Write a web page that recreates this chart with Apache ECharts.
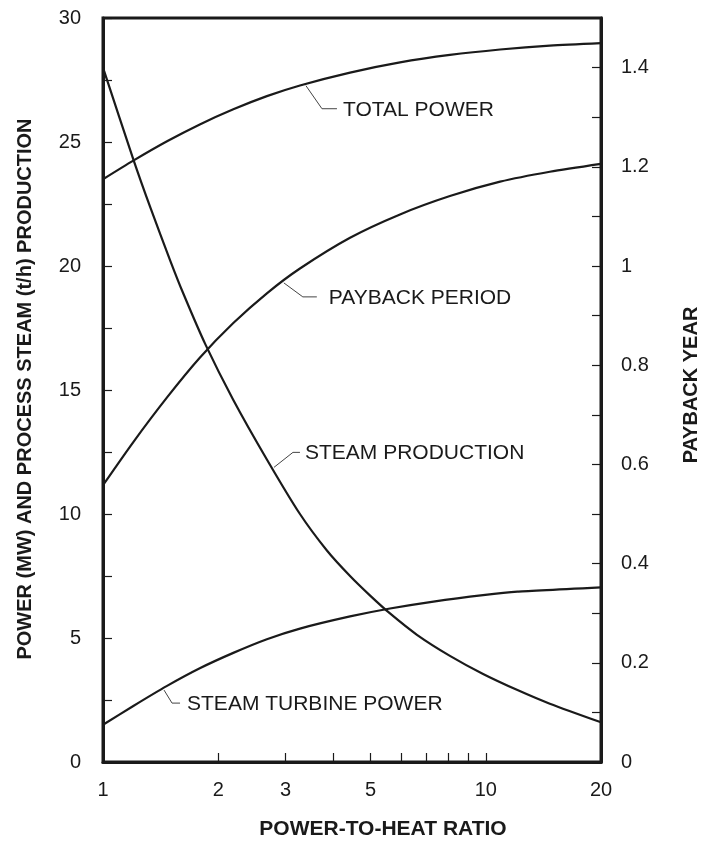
<!DOCTYPE html>
<html>
<head>
<meta charset="utf-8">
<script src="https://cdn.jsdelivr.net/npm/echarts@6/dist/echarts.min.js"></script>
<style>
html,body{margin:0;padding:0;background:#fff}
#main{width:702px;height:842px}
</style>
</head>
<body>
<div id="main"></div>
<script>
// values (x = power-to-heat ratio)
const totalPowerX = [1, 1.2, 1.47, 1.79, 2.19, 2.68, 3.27, 4.42, 5.97, 8.06, 10.9, 14.7, 20];
const totalPowerMW = [23.5, 24.25, 25.03, 25.71, 26.32, 26.85, 27.28, 27.8, 28.21, 28.51, 28.73, 28.89, 28.99];

const paybackX = [1, 1.2, 1.47, 1.79, 2.19, 2.68, 3.27, 4.42, 5.97, 8.06, 10.9, 14.7, 20];
const paybackYear = [0.558, 0.645, 0.735, 0.815, 0.885, 0.945, 0.995, 1.057, 1.104, 1.141, 1.17, 1.19, 1.206];

const steamX = [1, 1.2, 1.33, 1.5, 1.62, 1.85, 2.19, 2.68, 3.27, 3.85, 4.42, 4.98, 5.62, 6.61, 8.06, 9.84, 12.1, 14.7, 20];
const steamProd = [28.0, 24.3, 22.35, 20.2, 18.9, 16.85, 14.6, 12.2, 10.0, 8.52, 7.5, 6.72, 5.99, 5.13, 4.28, 3.55, 2.9, 2.35, 1.6];

const turbineX = [1, 1.2, 1.47, 1.79, 2.19, 2.68, 3.27, 4.42, 5.62, 7.3, 9.84, 12.1, 20];
const turbinePower = [1.5, 2.26, 3.07, 3.78, 4.4, 4.95, 5.38, 5.87, 6.19, 6.47, 6.73, 6.87, 7.04];

const xLabelValues = [1, 2, 3, 5, 10, 20];
const xTickValues = [2, 3, 4, 5, 6, 7, 8, 9, 10];
const rightLabelValues = [0, 0.2, 0.4, 0.6, 0.8, 1, 1.2, 1.4];
const rightTickValues = [0, 0.1, 0.2, 0.3, 0.4, 0.5, 0.6, 0.7, 0.8, 0.9, 1, 1.1, 1.2, 1.3, 1.4];

// curve labels: anchor point on the curve (data coords) + which y axis
const curveNotes = [
  {text: 'TOTAL POWER', x: 3.37, y: 27.35, yAxis: 0, bend: [17, 25], end: [32, 25], tx: 38},
  {text: 'PAYBACK PERIOD', x: 2.95, y: 0.97, yAxis: 1, bend: [20, 16], end: [34, 16], tx: 46},
  {text: 'STEAM PRODUCTION', x: 2.78, y: 11.8, yAxis: 0, bend: [20, -17], end: [27, -17], tx: 32},
  {text: 'STEAM TURBINE POWER', x: 1.435, y: 2.98, yAxis: 0, bend: [9, 15], end: [17, 15], tx: 24}
];

const FONT = '"Liberation Sans", Arial, Helvetica, sans-serif';
const INK = '#1a1a1a';

function pairs(xs, ys) {
  return xs.map((x, i) => [x, ys[i]]);
}

function lineSeries(name, xs, ys, yIdx) {
  return {
    name: name,
    type: 'line',
    yAxisIndex: yIdx,
    data: pairs(xs, ys),
    smooth: 0.25,
    showSymbol: false,
    lineStyle: {color: INK, width: 2.2},
    z: 3
  };
}

var myChart = echarts.init(document.getElementById('main'), null, {renderer: 'canvas'});

let option = {
  animation: false,
  backgroundColor: '#fff',
  grid: {
    left: 103, right: 101, top: 18, bottom: 80,
    show: true, borderColor: INK, borderWidth: 3, backgroundColor: 'transparent'
  },
  xAxis: {
    type: 'log',
    logBase: 10,
    min: 1,
    max: 20,
    axisLine: {show: true, lineStyle: {color: INK, width: 3}},
    axisTick: {show: true, inside: true, length: 9, customValues: xTickValues, lineStyle: {color: INK, width: 1.2}},
    minorTick: {show: false},
    splitLine: {show: false},
    axisLabel: {
      customValues: xLabelValues,
      margin: 18,
      fontSize: 20,
      color: INK,
      fontFamily: FONT
    }
  },
  yAxis: [
    {
      type: 'value',
      min: 0, max: 30, interval: 5,
      position: 'left',
      axisLine: {show: true, lineStyle: {color: INK, width: 3}},
      axisTick: {show: true, inside: true, length: 9, lineStyle: {color: INK, width: 1.2}},
      minorTick: {show: true, splitNumber: 2, length: 9, lineStyle: {color: INK, width: 1.2}},
      splitLine: {show: false},
      axisLabel: {margin: 22, fontSize: 20, color: INK, fontFamily: FONT}
    },
    {
      type: 'value',
      min: 0, max: 1.5,
      position: 'right',
      axisLine: {show: true, lineStyle: {color: INK, width: 3}},
      axisTick: {show: true, inside: true, length: 9, customValues: rightTickValues, lineStyle: {color: INK, width: 1.2}},
      splitLine: {show: false},
      axisLabel: {
        customValues: rightLabelValues,
        margin: 20, fontSize: 20, color: INK, fontFamily: FONT,
        formatter: function (v) { return v > 1.45 ? '' : String(+v.toFixed(1)); }
      }
    }
  ],
  series: [
    lineSeries('Total power', totalPowerX, totalPowerMW, 0),
    lineSeries('Payback period', paybackX, paybackYear, 1),
    lineSeries('Steam production', steamX, steamProd, 0),
    lineSeries('Steam turbine power', turbineX, turbinePower, 0)
  ]
};

myChart.setOption(option);

// axis titles + curve labels with their little leader lines
let graphics = [
  {
    type: 'text', x: 25, y: 389, rotation: Math.PI / 2,
    style: {text: 'POWER (MW) AND PROCESS STEAM (t/h) PRODUCTION', font: 'bold 20px ' + FONT,
      fill: INK, textAlign: 'center', textVerticalAlign: 'middle'}
  },
  {
    type: 'text', x: 691, y: 385, rotation: Math.PI / 2,
    style: {text: 'PAYBACK YEAR', font: 'bold 20px ' + FONT,
      fill: INK, textAlign: 'center', textVerticalAlign: 'middle'}
  },
  {
    type: 'text', x: 383, y: 829,
    style: {text: 'POWER-TO-HEAT RATIO', font: 'bold 21px ' + FONT,
      fill: INK, textAlign: 'center', textVerticalAlign: 'middle'}
  }
];

curveNotes.forEach(function (n) {
  let p = myChart.convertToPixel({xAxisIndex: 0, yAxisIndex: n.yAxis}, [n.x, n.y]);
  graphics.push({
    type: 'polyline',
    shape: {points: [
      [p[0] + 1, p[1] + (n.bend[1] > 0 ? 2 : -2)],
      [p[0] + n.bend[0], p[1] + n.bend[1]],
      [p[0] + n.end[0], p[1] + n.end[1]]
    ]},
    style: {stroke: '#444', lineWidth: 1, fill: null}
  });
  graphics.push({
    type: 'text', x: p[0] + n.tx, y: p[1] + n.end[1] + 1,
    style: {text: n.text, font: '21px ' + FONT, fill: INK, textAlign: 'left', textVerticalAlign: 'middle'}
  });
});

myChart.setOption({graphic: graphics});
</script>
</body>
</html>
